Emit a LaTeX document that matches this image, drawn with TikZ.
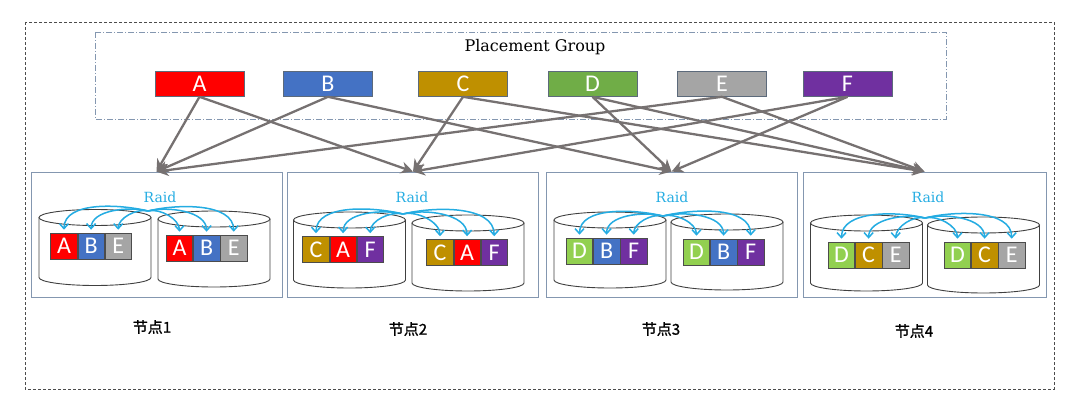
\documentclass[tikz,border=0pt]{standalone}
\usepackage{fontspec}
\setmainfont{DejaVu Serif}
\newfontfamily\blockfont{Carlito}
\newfontfamily\cjk[FakeBold=1.2]{Noto Sans CJK SC}
\usepackage{xcolor}
\usepackage{tikz}
\usetikzlibrary{arrows.meta,positioning}
\definecolor{PgRed}{RGB}{255, 0, 0}
\definecolor{PgBlue}{RGB}{68, 114, 196}
\definecolor{PgGold}{RGB}{191, 144, 0}
\definecolor{PgGreen}{RGB}{112, 173, 71}
\definecolor{PgLime}{RGB}{146, 208, 80}
\definecolor{PgGray}{RGB}{165, 165, 165}
\definecolor{PgPurple}{RGB}{112, 48, 160}
\definecolor{FrameBlue}{RGB}{132, 151, 176}
\definecolor{RaidCyan}{RGB}{36, 172, 226}
\definecolor{ArrowGray}{RGB}{118, 113, 113}
\tikzstyle{pg} = [rectangle, minimum width=89pt, minimum height=25pt, inner sep=0pt, draw=FrameBlue!70!black, line width=0.6pt, text=white, font=\blockfont\fontsize{24}{24}\selectfont]
\tikzstyle{blk} = [rectangle, minimum width=26.5pt, minimum height=26pt, inner sep=0pt, draw=black!70, line width=0.6pt, text=white, font=\blockfont\fontsize{24}{24}\selectfont]
\tikzstyle{server} = [rectangle, minimum width=251pt, minimum height=125pt, inner sep=0pt, draw=FrameBlue, line width=0.8pt]
\tikzstyle{raidlabel} = [text=RaidCyan, font=\fontsize{14}{14}\selectfont]
\tikzstyle{hostlabel} = [font=\cjk\fontsize{15}{15}\selectfont]
\tikzstyle{arrow} = [line width=2.3pt, draw=ArrowGray, -{Stealth[length=12pt,width=12pt]}]
\tikzstyle{raid} = [line width=1.5pt, draw=RaidCyan, -{Straight Barb[length=5pt,width=9pt]}]
\tikzset{disk/.pic={
  \fill[white] (-56pt,0pt) -- (-56pt,-60pt) arc (180:360:56pt and 8pt) -- (56pt,0pt) arc (0:180:56pt and 8pt);
  \draw[black!75, line width=0.9pt] (-56pt,0pt) -- (-56pt,-60pt) arc (180:360:56pt and 8pt) -- (56pt,0pt);
  \draw[black!75, line width=0.9pt] (0pt,0pt) ellipse (56pt and 8pt);
}}

\begin{document}
\begin{tikzpicture}[x=1pt, y=1pt]
\useasboundingbox (0,0) rectangle (1080,-404);

% Frames
\draw [black!70, line width=0.7pt, dash pattern=on 3pt off 2pt] (25,-22) rectangle (1054,-389);
\draw [FrameBlue, line width=0.8pt, dash pattern=on 6pt off 2pt on 1pt off 2pt] (95,-32) rectangle (946,-119);
\node (title) at (535,-47) {\fontsize{16}{16}\selectfont Placement Group};

% Placement group
\node (a) [pg, fill=PgRed] at (199.5,-84) {A};
\node (b) [pg, fill=PgBlue] at (328,-84) {B};
\node (c) [pg, fill=PgGold] at (463,-84) {C};
\node (d) [pg, fill=PgGreen] at (592.5,-84) {D};
\node (e) [pg, fill=PgGray] at (722,-84) {E};
\node (f) [pg, fill=PgPurple] at (847.5,-84) {F};

% Servers
\node (n1) [server] at (156.5,-234.5) {};
\node (n2) [server] at (413,-234.5) {};
\node (n3) [server] at (671.5,-234.5) {};
\node (n4) [server, minimum width=243pt] at (924.5,-234.5) {};

\node (l1) [hostlabel] at (152,-327) {节点1};
\node (l2) [hostlabel] at (408,-329) {节点2};
\node (l3) [hostlabel] at (661,-329) {节点3};
\node (l4) [hostlabel] at (914,-331) {节点4};

\node (r1) [raidlabel] at (160,-197) {Raid};
\node (r2) [raidlabel] at (412,-197) {Raid};
\node (r3) [raidlabel] at (672,-197) {Raid};
\node (r4) [raidlabel] at (928,-197) {Raid};

% Disks
\pic at (95,-217.5) {disk};
\pic at (214,-219) {disk};
\pic at (349.5,-220) {disk};
\pic at (468,-223) {disk};
\pic at (610,-220) {disk};
\pic at (727,-222) {disk};
\pic at (866.5,-223) {disk};
\pic at (983.5,-225) {disk};

% Blocks
\node (a1) [blk, fill=PgRed] at (64,-246) {A};
\node (b1) [blk, fill=PgBlue, right=0pt of a1] {B};
\node (e1) [blk, fill=PgGray, right=0pt of b1] {E};
\node (a1r) [blk, fill=PgRed] at (179.5,-248) {A};
\node (b1r) [blk, fill=PgBlue, right=0pt of a1r] {B};
\node (e1r) [blk, fill=PgGray, right=0pt of b1r] {E};

\node (c2) [blk, fill=PgGold] at (316,-249.5) {C};
\node (a2) [blk, fill=PgRed, right=0pt of c2] {A};
\node (f2) [blk, fill=PgPurple, right=0pt of a2] {F};
\node (c2r) [blk, fill=PgGold] at (440,-252.5) {C};
\node (a2r) [blk, fill=PgRed, right=0pt of c2r] {A};
\node (f2r) [blk, fill=PgPurple, right=0pt of a2r] {F};

\node (d3) [blk, fill=PgLime] at (579.5,-251) {D};
\node (b3) [blk, fill=PgBlue, right=0pt of d3] {B};
\node (f3) [blk, fill=PgPurple, right=0pt of b3] {F};
\node (d3r) [blk, fill=PgLime] at (696.5,-252) {D};
\node (b3r) [blk, fill=PgBlue, right=0pt of d3r] {B};
\node (f3r) [blk, fill=PgPurple, right=0pt of b3r] {F};

\node (d4) [blk, fill=PgLime] at (841.5,-255) {D};
\node (c4) [blk, fill=PgGold, right=0pt of d4] {C};
\node (e4) [blk, fill=PgGray, right=0pt of c4] {E};
\node (d4r) [blk, fill=PgLime] at (957.5,-255) {D};
\node (c4r) [blk, fill=PgGold, right=0pt of d4r] {C};
\node (e4r) [blk, fill=PgGray, right=0pt of c4r] {E};

% Raid arcs
\coordinate (h1) at (148,-211);
\coordinate (h2) at (403,-214);
\coordinate (h3) at (663,-216);
\coordinate (h4) at (925,-218);
\foreach \blkname/\hub/\ang in {a1/h1/166, b1/h1/166, e1/h1/166, a1r/h1/14, b1r/h1/14, e1r/h1/14,
  c2/h2/166, a2/h2/166, f2/h2/166, c2r/h2/14, a2r/h2/14, f2r/h2/14,
  d3/h3/166, b3/h3/166, f3/h3/166, d3r/h3/14, b3r/h3/14, f3r/h3/14,
  d4/h4/166, c4/h4/166, e4/h4/166, d4r/h4/14, c4r/h4/14, e4r/h4/14}
  \draw [raid] (\hub) to[out=\ang, in=90, looseness=0.85] ([yshift=3pt]\blkname.north);

% Arrows
\draw [arrow] (a.south) -- (n1.north);
\draw [arrow] (a.south) -- (n2.north);
\draw [arrow] (b.south) -- (n1.north);
\draw [arrow] (b.south) -- (n3.north);
\draw [arrow] (c.south) -- (n2.north);
\draw [arrow] (c.south) -- (n4.north);
\draw [arrow] (d.south) -- (n3.north);
\draw [arrow] (d.south) -- (n4.north);
\draw [arrow] (e.south) -- (n1.north);
\draw [arrow] (e.south) -- (n4.north);
\draw [arrow] (f.south) -- (n2.north);
\draw [arrow] (f.south) -- (n3.north);

\end{tikzpicture}
\end{document}
